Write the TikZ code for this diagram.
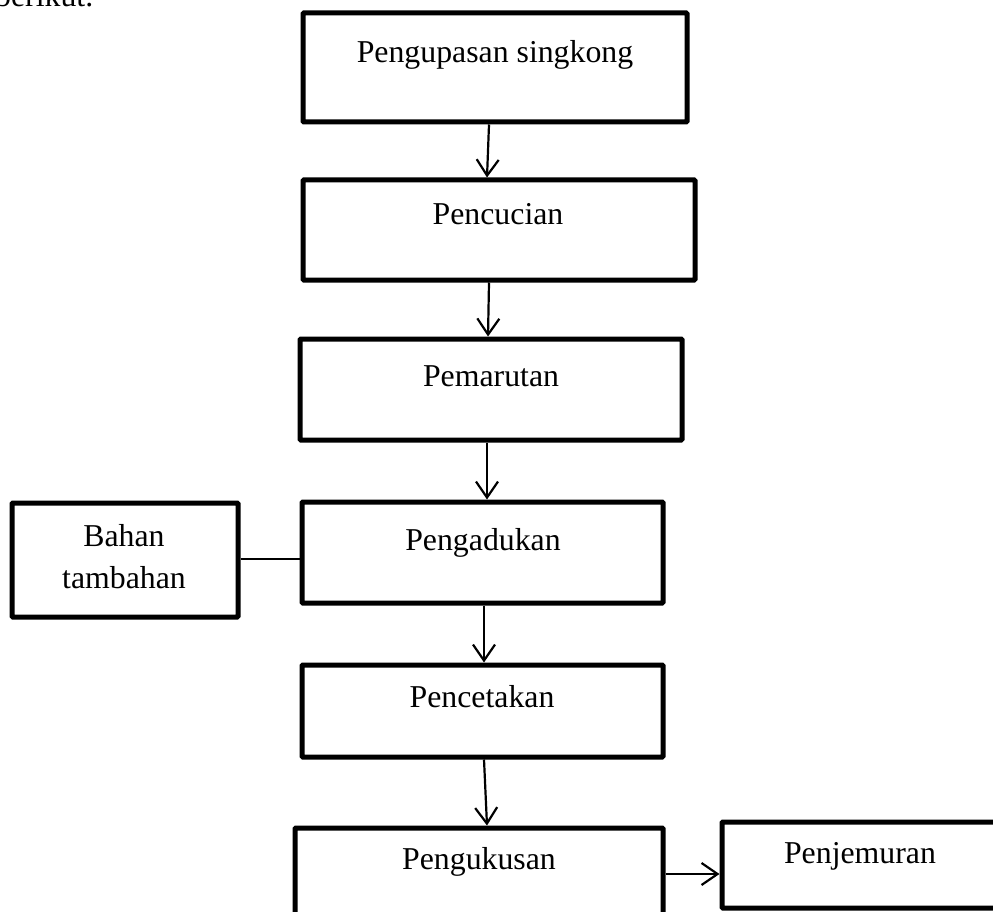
\documentclass[tikz,border=0pt]{standalone}
\usepackage{fontspec}
\setmainfont{Liberation Serif}
\usetikzlibrary{arrows.meta}
\begin{document}
\begin{tikzpicture}[x=1pt,y=-1pt,
  boxnode/.style={draw,line width=5pt,rounded corners=1pt,inner sep=0pt,outer sep=2.5pt},
  lbl/.style={inner sep=0pt,anchor=base,font=\fontsize{31.8}{42}\selectfont},
  arr/.style={line width=2.2pt,-{Straight Barb[length=16pt,width=22pt]}},
  link/.style={line width=2.2pt}]
\useasboundingbox (0,0) rectangle (993,912);
\clip (0,0) rectangle (993,912);
\fill[white] (0,0) rectangle (993,912);
% boxes
\node[boxnode,minimum width=384pt,minimum height=109pt] (b1) at (495,67.5) {};
\node[boxnode,minimum width=392pt,minimum height=100pt] (b2) at (499,230) {};
\node[boxnode,minimum width=382pt,minimum height=101pt] (b3) at (491,389.5) {};
\node[boxnode,minimum width=361pt,minimum height=101pt] (b4) at (482.5,552.5) {};
\node[boxnode,minimum width=361pt,minimum height=92pt] (b5) at (482.5,711) {};
\node[boxnode,minimum width=368pt,minimum height=102pt] (b6) at (479,879) {};
\node[boxnode,minimum width=288pt,minimum height=86pt] (b7) at (866,865) {};
\node[boxnode,minimum width=226pt,minimum height=114pt] (bh) at (125,560) {};
% labels
\node[lbl,anchor=base west] (t0) at (-5,7) {berikut.};
\node[lbl] (t1) at (495,63) {Pengupasan singkong};
\node[lbl] (t2) at (498,225) {Pencucian};
\node[lbl] (t3) at (491,386) {Pemarutan};
\node[lbl] (t4) at (483,550) {Pengadukan};
\node[lbl] (t5) at (482,707) {Pencetakan};
\node[lbl] (t6) at (479,869) {Pengukusan};
\node[lbl] (t7) at (860,863) {Penjemuran};
\node[lbl,align=center] (th) at (124,588) {Bahan\\tambahan};
% connectors
\draw[arr] ([xshift=-6pt]b1.south) -- ([xshift=-12pt]b2.north);
\draw[arr] ([xshift=-10pt]b2.south) -- ([xshift=-3pt]b3.north);
\draw[arr] ([xshift=-4pt]b3.south) -- ([xshift=4.5pt]b4.north);
\draw[arr] ([xshift=1.5pt]b4.south) -- ([xshift=1.5pt]b5.north);
\draw[arr] ([xshift=1.5pt]b5.south) -- ([xshift=8pt]b6.north);
\draw[arr] ([yshift=5pt]b6.east) -- ([yshift=-9pt]b7.west);
\draw[link] ([yshift=1pt]bh.east) -- ([yshift=-6.5pt]b4.west);
\end{tikzpicture}
\end{document}
